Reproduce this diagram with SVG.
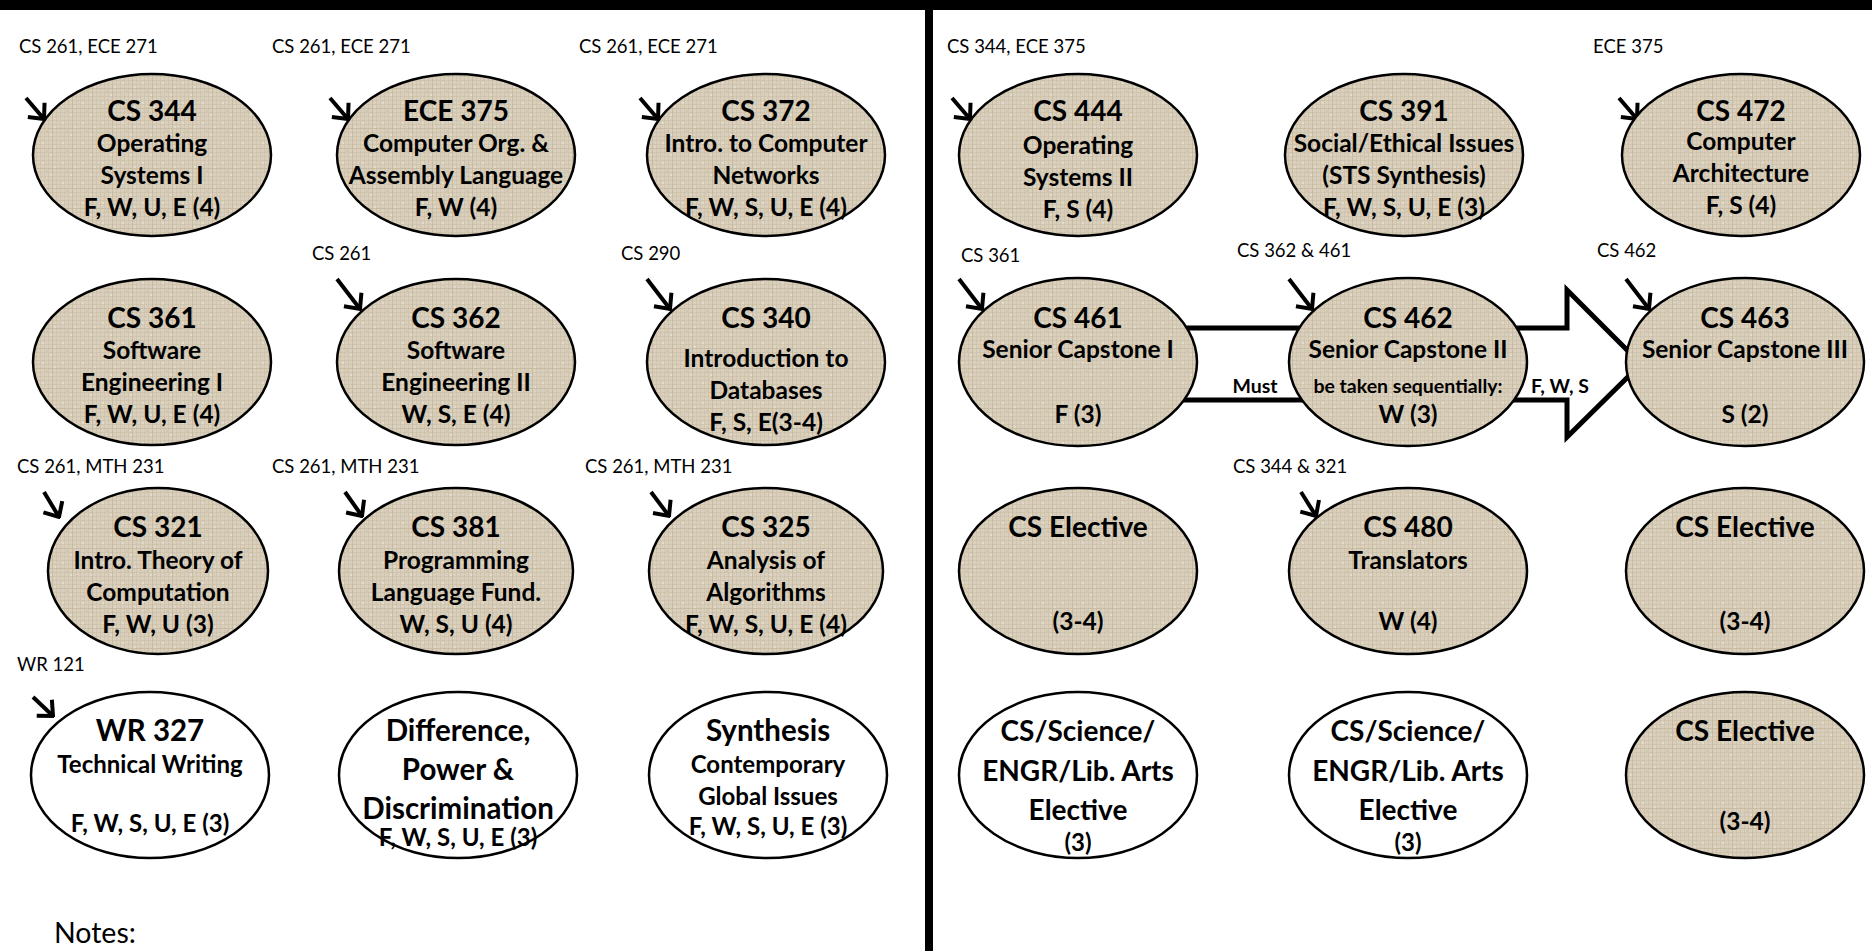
<svg xmlns="http://www.w3.org/2000/svg" width="1872" height="951" viewBox="0 0 1872 951">
<style>
.t{font-family:Lato,'Open Sans',sans-serif;font-weight:700;text-anchor:middle;fill:#000}
.h{font-size:28px}
.H{font-size:29.5px}
.b{font-size:24.5px}
.c{font-size:24px}
.s{font-size:19.5px}
.p{font-family:Lato,'Open Sans',sans-serif;font-weight:400;font-size:18.5px;fill:#000}
.tex{fill:url(#burlap);stroke:#000;stroke-width:2.5}
.wht{fill:#fff;stroke:#000;stroke-width:2.5}
.pre{stroke:#000;stroke-width:4;fill:none;marker-end:url(#chev)}
</style>
<defs>
<pattern id="burlap" width="20" height="20" patternUnits="userSpaceOnUse">
<rect width="20" height="20" fill="#d9cfbc"/>
<path d="M0 0.5H20M0 4.5H20M0 8.5H20M0 12.5H20M0 16.5H20" stroke="#c7bba2" stroke-width="1" opacity="0.5"/>
<path d="M0.5 0V20M4.5 0V20M8.5 0V20M12.5 0V20M16.5 0V20" stroke="#c7bba2" stroke-width="1" opacity="0.5"/>
<path d="M0 8.5H20M12.5 0V20" stroke="#b4a68b" stroke-width="1" opacity="0.3"/>
<rect x="2" y="2" width="2" height="2" fill="#eee8dc" opacity="0.5"/>
<rect x="10" y="14" width="2" height="2" fill="#eee8dc" opacity="0.5"/>
<rect x="14" y="6" width="2" height="2" fill="#eee8dc" opacity="0.4"/>
<rect x="6" y="10" width="2" height="2" fill="#bdb096" opacity="0.3"/>
</pattern>
<marker id="chev" viewBox="-15 -14 17 28" refX="0" refY="0" markerWidth="17" markerHeight="28" markerUnits="userSpaceOnUse" orient="auto">
<path d="M-12,-11 L0,0 L-12,11" fill="none" stroke="#000" stroke-width="4" stroke-linejoin="miter"/>
</marker>
</defs>
<rect x="0" y="0" width="1872" height="951" fill="#fff"/>
<rect x="0" y="0" width="1872" height="10" fill="#000"/>
<rect x="925" y="0" width="8" height="951" fill="#000"/>

<g id="connectors">
<polygon points="1150,328 1567,328 1567,290 1641,364 1567,437 1567,400 1150,400" fill="#fff" stroke="#000" stroke-width="5" stroke-linejoin="miter"/>
<text class="t s" x="1255" y="393">Must</text>
<text class="t s" x="1560" y="393">F, W, S</text>
<line class="pre" x1="26" y1="98" x2="44" y2="119"/>
<line class="pre" x1="330" y1="98" x2="348" y2="119"/>
<line class="pre" x1="640" y1="98" x2="658" y2="119"/>
<line class="pre" x1="952" y1="98" x2="970" y2="119"/>
<line class="pre" x1="1619" y1="98" x2="1637" y2="119"/>
<line class="pre" x1="337" y1="279" x2="360" y2="309"/>
<line class="pre" x1="647" y1="279" x2="670" y2="309"/>
<line class="pre" x1="959" y1="279" x2="982" y2="309"/>
<line class="pre" x1="1289" y1="279" x2="1312" y2="309"/>
<line class="pre" x1="1626" y1="279" x2="1649" y2="309"/>
<line class="pre" x1="44" y1="492" x2="59" y2="517"/>
<line class="pre" x1="345" y1="492" x2="362" y2="516"/>
<line class="pre" x1="651" y1="492" x2="669" y2="516"/>
<line class="pre" x1="1301" y1="492" x2="1316" y2="516"/>
<line class="pre" x1="33" y1="697" x2="53" y2="716"/>
<text class="p" x="19" y="53">CS 261, ECE 271</text>
<text class="p" x="272" y="53">CS 261, ECE 271</text>
<text class="p" x="579" y="53">CS 261, ECE 271</text>
<text class="p" x="947" y="53">CS 344, ECE 375</text>
<text class="p" x="1593" y="53">ECE 375</text>
<text class="p" x="312" y="260">CS 261</text>
<text class="p" x="621" y="260">CS 290</text>
<text class="p" x="961" y="262">CS 361</text>
<text class="p" x="1237" y="257">CS 362 &amp; 461</text>
<text class="p" x="1597" y="257">CS 462</text>
<text class="p" x="17" y="473">CS 261, MTH 231</text>
<text class="p" x="272" y="473">CS 261, MTH 231</text>
<text class="p" x="585" y="473">CS 261, MTH 231</text>
<text class="p" x="1233" y="473">CS 344 &amp; 321</text>
<text class="p" x="17" y="671">WR 121</text>
</g>

<g id="n-cs344"><ellipse class="tex" cx="152" cy="155" rx="119" ry="81"/>
<text class="t h" x="152" y="121">CS 344</text><text class="t b" x="152" y="152">Operating</text><text class="t b" x="152" y="184">Systems I</text><text class="t b" x="152" y="216">F, W, U, E (4)</text></g>
<g id="n-ece375"><ellipse class="tex" cx="456" cy="155" rx="119" ry="81"/>
<text class="t h" x="456" y="121">ECE 375</text><text class="t b" x="456" y="152">Computer Org. &amp;</text><text class="t b" x="456" y="184">Assembly Language</text><text class="t b" x="456" y="216">F, W (4)</text></g>
<g id="n-cs372"><ellipse class="tex" cx="766" cy="155" rx="119" ry="81"/>
<text class="t h" x="766" y="121">CS 372</text><text class="t b" x="766" y="152">Intro. to Computer</text><text class="t b" x="766" y="184">Networks</text><text class="t b" x="766" y="216">F, W, S, U, E (4)</text></g>
<g id="n-cs444"><ellipse class="tex" cx="1078" cy="155" rx="119" ry="81"/>
<text class="t h" x="1078" y="121">CS 444</text><text class="t b" x="1078" y="154">Operating</text><text class="t b" x="1078" y="186">Systems II</text><text class="t b" x="1078" y="218">F, S (4)</text></g>
<g id="n-cs391"><ellipse class="tex" cx="1404" cy="155" rx="119" ry="81"/>
<text class="t h" x="1404" y="121">CS 391</text><text class="t b" x="1404" y="152">Social/Ethical Issues</text><text class="t b" x="1404" y="184">(STS Synthesis)</text><text class="t b" x="1404" y="216">F, W, S, U, E (3)</text></g>
<g id="n-cs472"><ellipse class="tex" cx="1741" cy="155" rx="119" ry="81"/>
<text class="t h" x="1741" y="121">CS 472</text><text class="t b" x="1741" y="150">Computer</text><text class="t b" x="1741" y="182">Architecture</text><text class="t b" x="1741" y="214">F, S (4)</text></g>

<g id="n-cs361"><ellipse class="tex" cx="152" cy="362" rx="119" ry="83"/>
<text class="t h" x="152" y="328">CS 361</text><text class="t b" x="152" y="359">Software</text><text class="t b" x="152" y="391">Engineering I</text><text class="t b" x="152" y="423">F, W, U, E (4)</text></g>
<g id="n-cs362"><ellipse class="tex" cx="456" cy="362" rx="119" ry="83"/>
<text class="t h" x="456" y="328">CS 362</text><text class="t b" x="456" y="359">Software</text><text class="t b" x="456" y="391">Engineering II</text><text class="t b" x="456" y="423">W, S, E (4)</text></g>
<g id="n-cs340"><ellipse class="tex" cx="766" cy="362" rx="119" ry="83"/>
<text class="t h" x="766" y="328">CS 340</text><text class="t b" x="766" y="367">Introduction to</text><text class="t b" x="766" y="399">Databases</text><text class="t b" x="766" y="431">F, S, E(3-4)</text></g>
<g id="n-cs461"><ellipse class="tex" cx="1078" cy="362" rx="119" ry="84"/>
<text class="t h" x="1078" y="328">CS 461</text><text class="t b" x="1078" y="358">Senior Capstone I</text><text class="t b" x="1078" y="423">F (3)</text></g>
<g id="n-cs462"><ellipse class="tex" cx="1408" cy="362" rx="119" ry="84"/>
<text class="t h" x="1408" y="328">CS 462</text><text class="t b" x="1408" y="358">Senior Capstone II</text><text class="t s" x="1408" y="393">be taken sequentially:</text><text class="t b" x="1408" y="423">W (3)</text></g>
<g id="n-cs463"><ellipse class="tex" cx="1745" cy="362" rx="119" ry="84"/>
<text class="t h" x="1745" y="328">CS 463</text><text class="t b" x="1745" y="358">Senior Capstone III</text><text class="t b" x="1745" y="423">S (2)</text></g>

<g id="n-cs321"><ellipse class="tex" cx="158" cy="571" rx="110" ry="83"/>
<text class="t h" x="158" y="537">CS 321</text><text class="t b" x="158" y="569">Intro. Theory of</text><text class="t b" x="158" y="601">Computation</text><text class="t b" x="158" y="633">F, W, U (3)</text></g>
<g id="n-cs381"><ellipse class="tex" cx="456" cy="571" rx="117" ry="83"/>
<text class="t h" x="456" y="537">CS 381</text><text class="t b" x="456" y="569">Programming</text><text class="t b" x="456" y="601">Language Fund.</text><text class="t b" x="456" y="633">W, S, U (4)</text></g>
<g id="n-cs325"><ellipse class="tex" cx="766" cy="571" rx="117" ry="83"/>
<text class="t h" x="766" y="537">CS 325</text><text class="t b" x="766" y="569">Analysis of</text><text class="t b" x="766" y="601">Algorithms</text><text class="t b" x="766" y="633">F, W, S, U, E (4)</text></g>
<g id="n-elec1"><ellipse class="tex" cx="1078" cy="571" rx="119" ry="83"/>
<text class="t h" x="1078" y="537">CS Elective</text><text class="t b" x="1078" y="630">(3-4)</text></g>
<g id="n-cs480"><ellipse class="tex" cx="1408" cy="571" rx="119" ry="83"/>
<text class="t h" x="1408" y="537">CS 480</text><text class="t b" x="1408" y="569">Translators</text><text class="t b" x="1408" y="630">W (4)</text></g>
<g id="n-elec2"><ellipse class="tex" cx="1745" cy="571" rx="119" ry="83"/>
<text class="t h" x="1745" y="537">CS Elective</text><text class="t b" x="1745" y="630">(3-4)</text></g>

<g id="n-wr327"><ellipse class="wht" cx="150" cy="775" rx="119" ry="83"/>
<text class="t H" x="150" y="741">WR 327</text><text class="t c" x="150" y="773">Technical Writing</text><text class="t c" x="150" y="832">F, W, S, U, E (3)</text></g>
<g id="n-dpd"><ellipse class="wht" cx="458" cy="775" rx="119" ry="83"/>
<text class="t H" x="458" y="741">Difference,</text><text class="t H" x="458" y="780">Power &amp;</text><text class="t H" x="458" y="819">Discrimination</text><text class="t c" x="458" y="846">F, W, S, U, E (3)</text></g>
<g id="n-synth"><ellipse class="wht" cx="768" cy="775" rx="119" ry="83"/>
<text class="t H" x="768" y="741">Synthesis</text><text class="t c" x="768" y="773">Contemporary</text><text class="t c" x="768" y="805">Global Issues</text><text class="t c" x="768" y="835">F, W, S, U, E (3)</text></g>
<g id="n-lib1"><ellipse class="wht" cx="1078" cy="775" rx="119" ry="83"/>
<text class="t h" x="1078" y="741">CS/Science/</text><text class="t h" x="1078" y="781">ENGR/Lib. Arts</text><text class="t h" x="1078" y="820">Elective</text><text class="t c" x="1078" y="851">(3)</text></g>
<g id="n-lib2"><ellipse class="wht" cx="1408" cy="775" rx="119" ry="83"/>
<text class="t h" x="1408" y="741">CS/Science/</text><text class="t h" x="1408" y="781">ENGR/Lib. Arts</text><text class="t h" x="1408" y="820">Elective</text><text class="t c" x="1408" y="851">(3)</text></g>
<g id="n-elec3"><ellipse class="tex" cx="1745" cy="775" rx="119" ry="83"/>
<text class="t h" x="1745" y="741">CS Elective</text><text class="t b" x="1745" y="830">(3-4)</text></g>

<text x="54" y="943" font-family="Lato,'Open Sans',sans-serif" font-size="28.5" fill="#000">Notes:</text>
</svg>
